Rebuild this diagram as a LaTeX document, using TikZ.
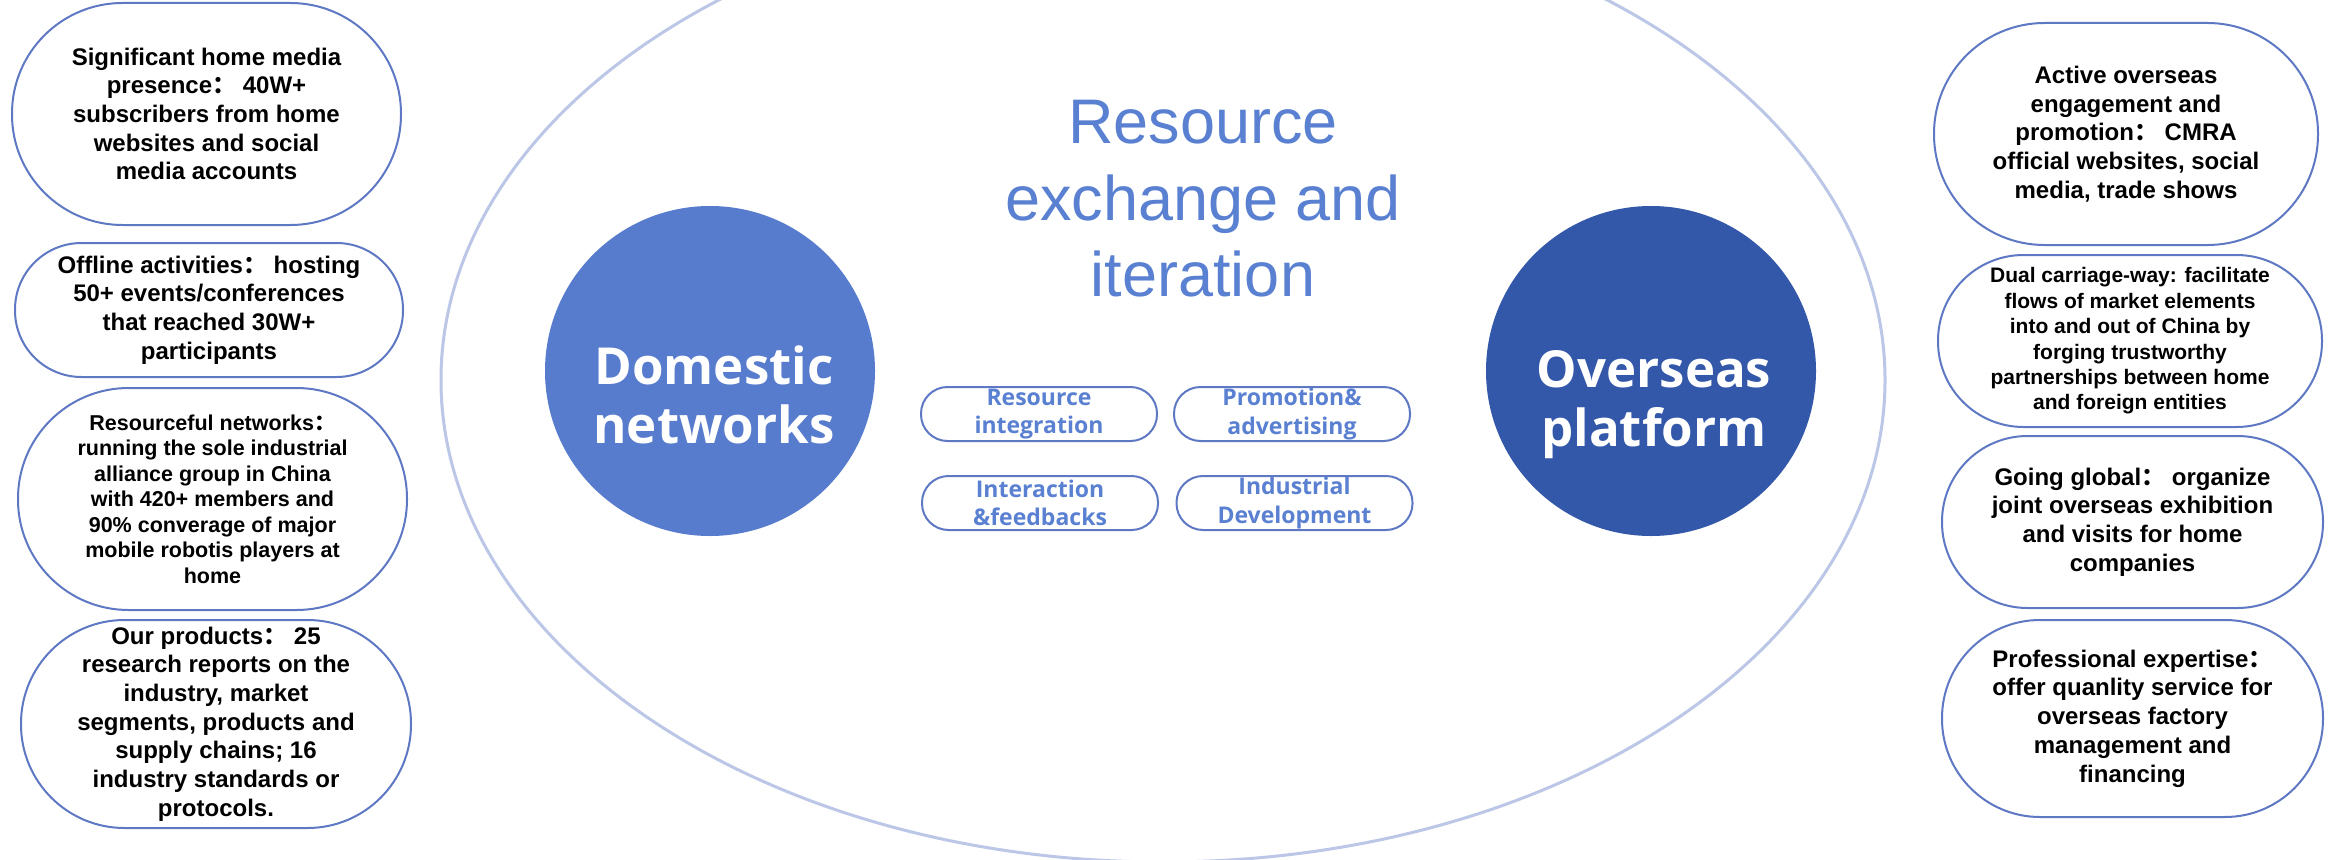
\documentclass[tikz,border=0pt]{standalone}
\usepackage{fontspec}
\setmainfont{Liberation Sans}
\newfontfamily\segoe{Open Sans}
\newfontfamily\cjk{Noto Sans CJK SC}
\usetikzlibrary{shapes.geometric}
\definecolor{ringc}{HTML}{BCC7E7}
\definecolor{boxc}{HTML}{5E78C4}
\definecolor{domc}{HTML}{577CCD}
\definecolor{ovsc}{HTML}{3357A9}
\definecolor{titc}{HTML}{5A80D1}
\newcommand{\fcolon}{{\cjk ：}}
\begin{document}
\begin{tikzpicture}[x=1pt,y=-1pt,
  card/.style={draw=boxc, line width=2pt, rectangle, inner sep=0pt},
  cardtext/.style={align=center, inner sep=0pt, text=black, font=\fontsize{24}{28.7}\selectfont\bfseries},
  smalltext/.style={cardtext, font=\fontsize{21.5}{25.5}\selectfont\bfseries},
  pill/.style={draw=boxc, line width=2pt, rectangle, inner sep=0pt, minimum width=236pt, minimum height=54pt, rounded corners=26.5pt},
  pilltext/.style={align=center, inner sep=0pt, text=titc, font=\segoe\fontsize{23}{28.5}\selectfont\bfseries},
  hub/.style={circle, inner sep=0pt, minimum size=330pt},
  hubtext/.style={align=center, inner sep=0pt, text=white, font=\segoe\fontsize{51}{59}\selectfont\bfseries}
]
\useasboundingbox (0,0) rectangle (2341,859);
\fill[white] (0,0) rectangle (2341,859);

% big ring
\node[ellipse, draw=ringc, line width=3pt, minimum width=1444pt, minimum height=964pt, inner sep=0pt] (ring) at (1163,380) {};

% title
\node[align=center, inner sep=0pt, text=titc, font=\fontsize{63}{76.5}\selectfont] (title) at (1203,199) {Resource\\exchange and\\iteration};

% hubs
\node[hub, fill=domc] (dom) at (710,371) {};
\node[hubtext] (domt) at (714,394.5) {Domestic\\networks};
\node[hub, fill=ovsc] (ovs) at (1651,371) {};
\node[hubtext] (ovst) at (1654,404.5) {Overseas\\platform};

% pills
\node[pill] (p1) at (1039,414) {};
\node[pilltext] (p1t) at (p1) {Resource\\integration};
\node[pill] (p2) at (1292,414) {};
\node[pilltext] (p2t) at (p2) {Promotion\&\\advertising};
\node[pill] (p3) at (1040,503) {};
\node[pilltext] (p3t) at (p3) {Interaction\\\&feedbacks};
\node[pill] (p4) at (1294.5,503) {};
\node[pilltext] (p4t) at (p4) {Industrial\\Development};

% left cards
\node[card, minimum width=389pt, minimum height=222pt, rounded corners=110.5pt] (l1) at (206.5,114) {};
\node[cardtext] (l1t) at (l1) {Significant home media\\presence\fcolon\ 40W+\\subscribers from home\\websites and social\\media accounts};
\node[card, minimum width=388pt, minimum height=134pt, rounded corners=66.5pt] (l2) at (209,310) {};
\node[cardtext] (l2t) at (l2) {Offline activities\fcolon\ hosting\\50+ events/conferences\\that reached 30W+\\participants};
\node[card, minimum width=389pt, minimum height=222pt, rounded corners=110.5pt] (l3) at (212.5,499) {};
\node[smalltext] (l3t) at (l3) {Resourceful networks\fcolon\\running the sole industrial\\alliance group in China\\with 420+ members and\\90\% converage of major\\mobile robotis players at\\home};
\node[card, minimum width=390pt, minimum height=208pt, rounded corners=103.5pt] (l4) at (216,724) {};
\node[cardtext] (l4t) at (l4) {Our products\fcolon\ 25\\research reports on the\\industry, market\\segments, products and\\supply chains; 16\\industry standards or\\protocols.};

% right cards
\node[card, minimum width=384pt, minimum height=222pt, rounded corners=110.5pt] (r1) at (2126,134) {};
\node[cardtext] (r1t) at (r1) {Active overseas\\engagement and\\promotion\fcolon\ CMRA\\official websites, social\\media, trade shows};
\node[card, minimum width=384pt, minimum height=172pt, rounded corners=85.5pt] (r2) at (2130,341) {};
\node[smalltext, font=\fontsize{21}{25.4}\selectfont\bfseries] (r2t) at (r2) {Dual carriage-way: facilitate\\flows of market elements\\into and out of China by\\forging trustworthy\\partnerships between home\\and foreign entities};
\node[card, minimum width=381pt, minimum height=172pt, rounded corners=85.5pt] (r3) at (2132.5,522) {};
\node[cardtext] (r3t) at (r3) {Going global\fcolon\ organize\\joint overseas exhibition\\and visits for home\\companies};
\node[card, minimum width=381pt, minimum height=197pt, rounded corners=98pt] (r4) at (2132.5,718.5) {};
\node[cardtext] (r4t) at (r4) {Professional expertise\fcolon\\offer quanlity service for\\overseas factory\\management and\\financing};
\end{tikzpicture}
\end{document}
